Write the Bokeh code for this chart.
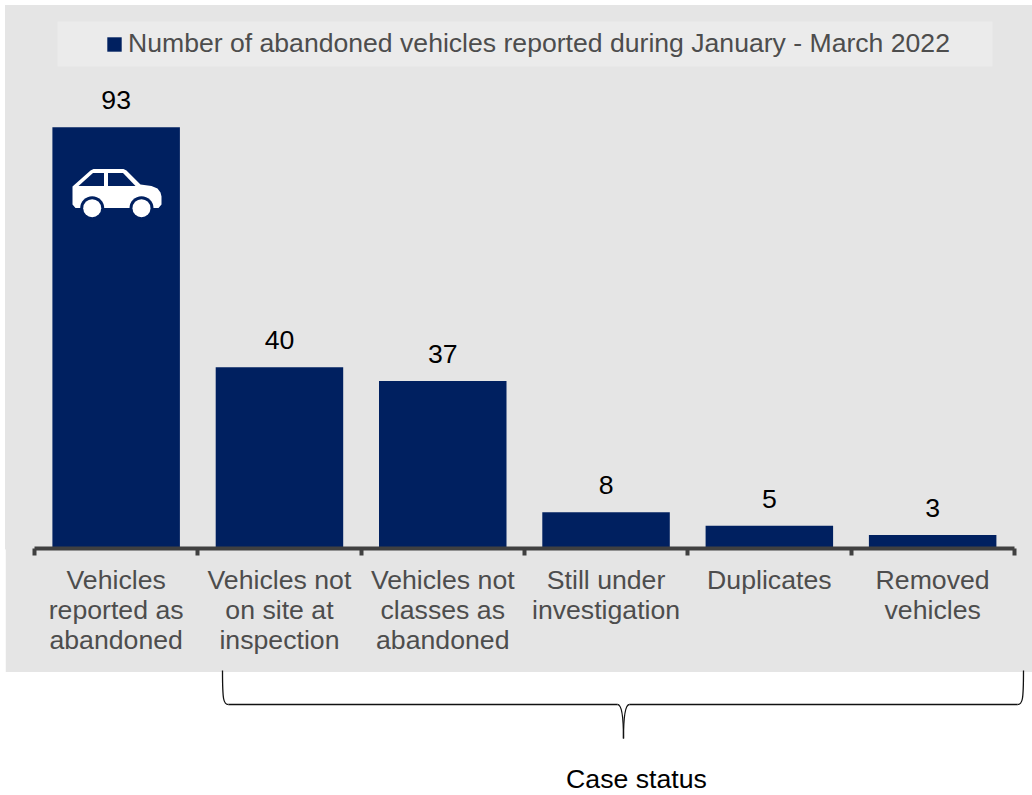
from bokeh.plotting import figure
from bokeh.models import (Range1d, LinearAxis, FixedTicker, Legend, LegendItem, ColumnDataSource)
from bokeh.layouts import column
from bokeh.core.properties import value
from bokeh.embed import file_html
from bokeh.resources import INLINE
import numpy as np

categories = ["Vehicles\nreported as\nabandoned", "Vehicles not\non site at\ninspection",
              "Vehicles not\nclasses as\nabandoned", "Still under\ninvestigation",
              "Duplicates", "Removed\nvehicles"]
counts = [93, 40, 37, 8, 5, 3]
legend_text = "Number of abandoned vehicles reported during January - March 2022"
bracket_label = "Case status"

FONT = "Liberation Sans"
NAVY = "#002060"
PANEL = "#e5e5e5"
TEXT_GREY = "#4d4d4d"
TEXT_SIZE = "26.67px"

PX_X0, PX_STEP = 34.0, 163.3
PX_Y0, PX_UNIT = 548.0, 4.53
LEFT, TOP, RIGHT, PANEL_BOTTOM = 5, 5, 1032, 672

def dx(px):
    return (np.asarray(px, dtype=float) - PX_X0) / PX_STEP

def dy(py):
    return (PX_Y0 - np.asarray(py, dtype=float)) / PX_UNIT

xs = np.arange(len(counts)) + 0.5
src = ColumnDataSource(dict(x=xs, top=counts, label=[str(c) for c in counts]))

p = figure(width=RIGHT - LEFT, height=PANEL_BOTTOM - TOP, output_backend="svg", toolbar_location=None,
           x_range=Range1d(float(dx(LEFT)), float(dx(RIGHT))),
           y_range=Range1d(0, float(dy(TOP))),
           x_axis_type=None, y_axis_type=None,
           min_border_left=0, min_border_right=0, min_border_top=0,
           min_border_bottom=PANEL_BOTTOM - int(PX_Y0),
           background_fill_color=PANEL, border_fill_color=PANEL,
           outline_line_color=PANEL, outline_line_width=2)
p.grid.visible = False

p.quad(left=[float(dx(57))], right=[float(dx(992))], top=[float(dy(21))], bottom=[float(dy(66))],
       fill_color="#ebebeb", line_color=None)

bars = p.vbar(x="x", top="top", bottom=0, width=127.5 / PX_STEP, source=src, fill_color=NAVY, line_color=None)

p.text(x="x", y="top", text="label", source=src, y_offset=-27, text_align="center",
       text_baseline="alphabetic", text_font=value(FONT), text_font_size=value(TEXT_SIZE), text_color="#000000")

body_px = [(72, 186), (90, 170), (93, 168.5), (123, 168.5), (126, 170), (140, 184), (151, 185.5),
           (157, 188), (160, 192), (161, 196), (161, 204), (158, 207.5), (75, 207.5), (72, 204)]
win_l_px = [(78, 185.5), (92.5, 172.5), (103.5, 172.5), (103.5, 185.5)]
win_r_px = [(107.5, 172.5), (122.5, 172.5), (135, 185.5), (107.5, 185.5)]
wheels_px = [91.7, 141.0]
wheel_y_px = 207.7

p.patch(dx([q[0] for q in body_px]), dy([q[1] for q in body_px]), fill_color="white", line_color=None)
for win in (win_l_px, win_r_px):
    p.patch(dx([q[0] for q in win]), dy([q[1] for q in win]), fill_color=NAVY, line_color=None)
p.scatter(dx(wheels_px), dy([wheel_y_px] * 2), size=24, marker="circle", fill_color=NAVY, line_color=None)
p.scatter(dx(wheels_px), dy([wheel_y_px] * 2), size=18, marker="circle", fill_color="white", line_color=None)

axis = LinearAxis(ticker=FixedTicker(ticks=list(xs), minor_ticks=list(range(len(counts) + 1))),
                  major_label_overrides={float(x): c for x, c in zip(xs, categories)},
                  bounds=(0, len(counts)),
                  axis_line_color="#404040", axis_line_width=4,
                  major_tick_line_color=None, major_tick_out=0, major_tick_in=0,
                  minor_tick_line_color="#404040", minor_tick_line_width=4, minor_tick_out=7, minor_tick_in=0,
                  major_label_standoff=9, major_label_text_font=FONT, major_label_text_font_size=TEXT_SIZE,
                  major_label_text_color=TEXT_GREY, major_label_text_line_height=1.0,
                  major_label_orientation="horizontal")
p.add_layout(axis, "below")

legend = Legend(items=[LegendItem(label=legend_text, renderers=[bars])],
                location=(100, 489), padding=0, margin=0, spacing=0,
                background_fill_alpha=0, border_line_color=None,
                glyph_width=18, glyph_height=18, label_standoff=5,
                label_text_font=FONT, label_text_font_size="26.6px", label_text_color=TEXT_GREY,
                label_text_baseline="middle")
p.add_layout(legend, "center")

BRACE_TOP = 669
q = figure(width=RIGHT - LEFT, height=795 - BRACE_TOP, output_backend="svg", toolbar_location=None,
           x_range=Range1d(LEFT, RIGHT), y_range=Range1d(795, BRACE_TOP),
           x_axis_type=None, y_axis_type=None, min_border=0,
           background_fill_alpha=0, border_fill_alpha=0, outline_line_color=None)
q.grid.visible = False
q.segment(x0=[228, 629], y0=[704, 704], x1=[617, 1017], y1=[704, 704], line_color="#111111", line_width=1.3)
q.bezier(x0=[222, 617, 623, 1017], y0=[670, 704, 738, 704],
         x1=[228, 623, 629, 1023], y1=[704, 738, 704, 670],
         cx0=[222, 621, 623, 1022], cy0=[700, 704, 716, 704],
         cx1=[223, 623, 625, 1023], cy1=[704, 716, 704, 700],
         line_color="#111111", line_width=1.3)
q.text(x=[636], y=[778], text=[bracket_label], text_align="center", text_baseline="alphabetic",
       text_font=value(FONT), text_font_size=value(TEXT_SIZE), text_color="#000000")

p.margin = (5, 0, 0, 5)
q.margin = (-3, 0, 0, 5)
root = column(p, q, margin=0, spacing=0, width=1032, height=795)
open("out.html", "w").write(file_html(root, INLINE))
